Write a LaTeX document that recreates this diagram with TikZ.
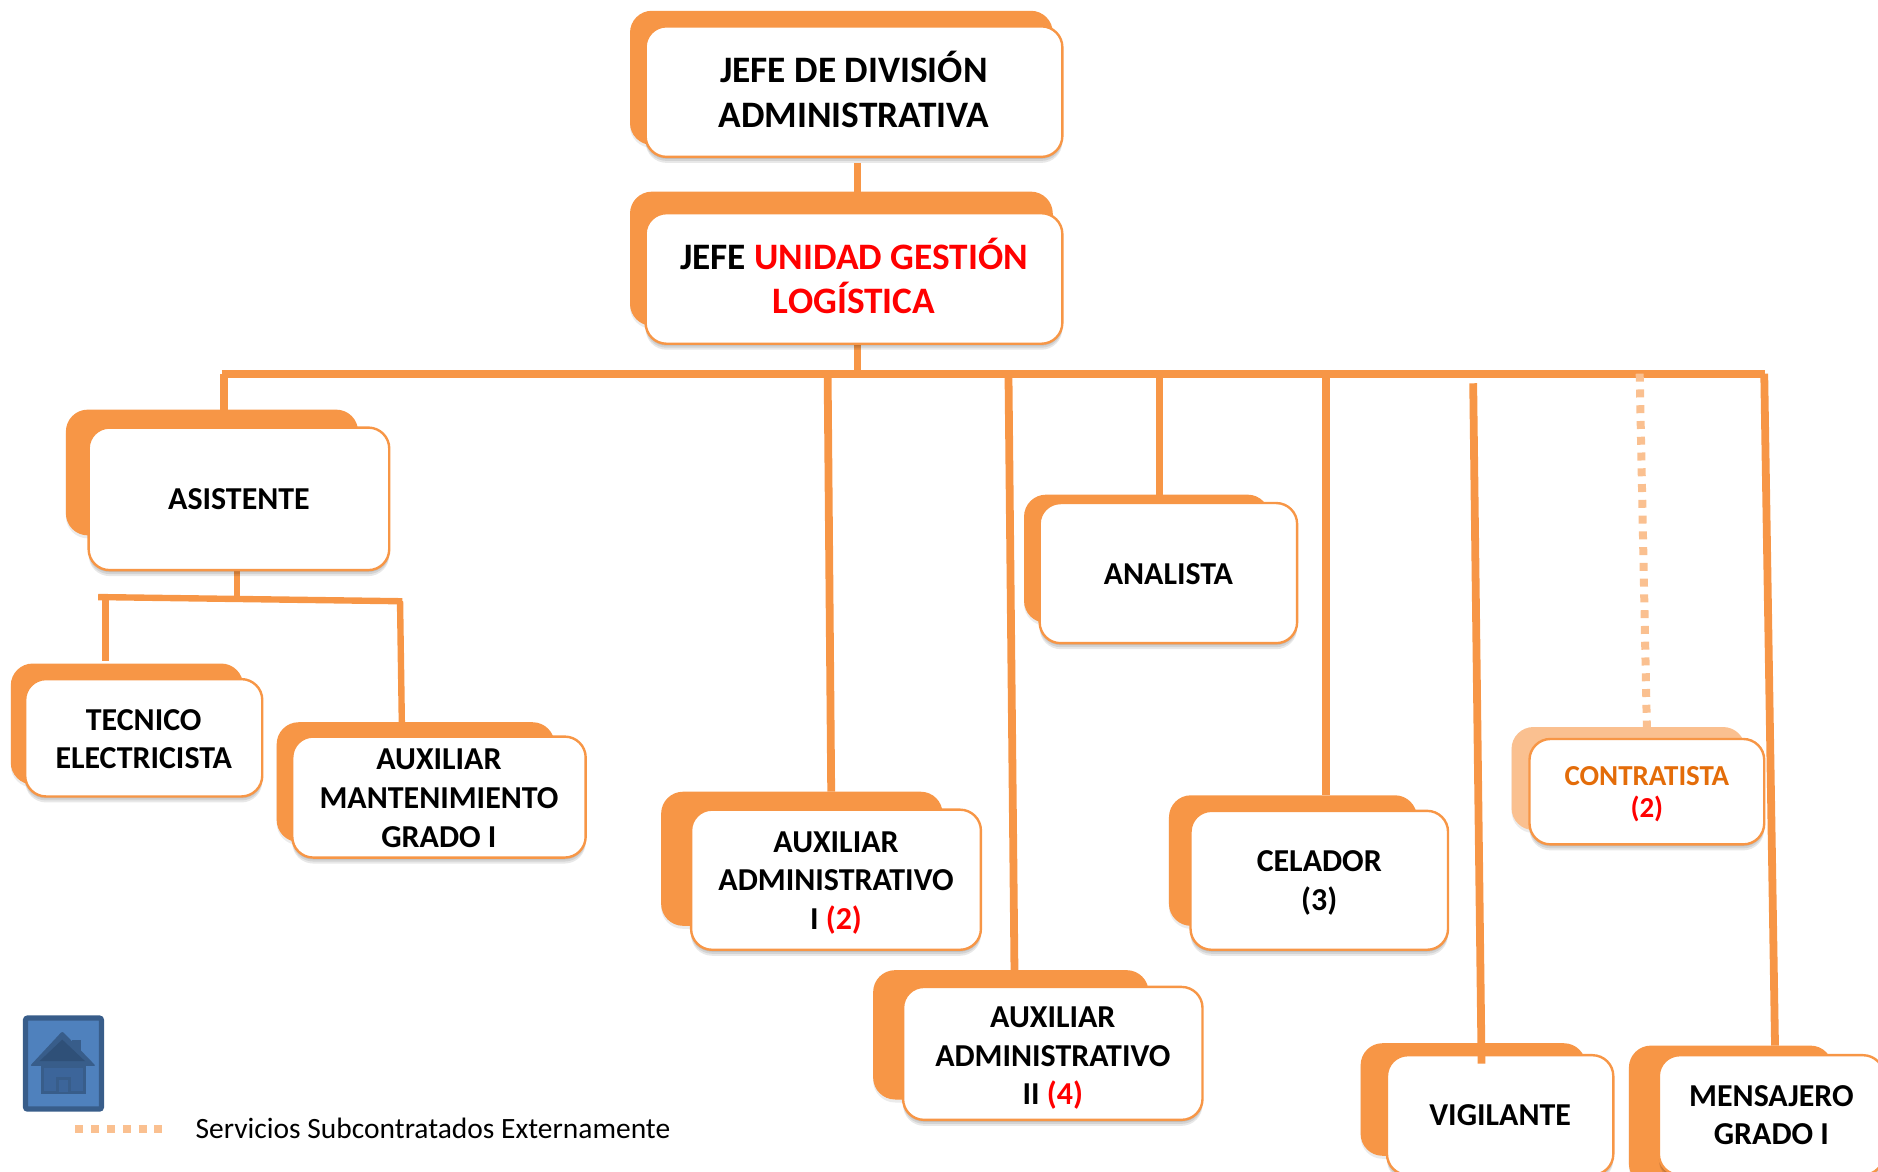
\documentclass[tikz,border=0pt]{standalone}
\usepackage{fontspec}
\setmainfont{Carlito}
\definecolor{org}{HTML}{F79646}
\definecolor{orglight}{HTML}{FAC090}
\definecolor{homefill}{HTML}{4F81BD}
\definecolor{homeline}{HTML}{385D8A}
\definecolor{homeroof}{HTML}{2F5078}
\definecolor{homebody}{HTML}{3C659A}
\definecolor{contr}{HTML}{E36C09}
\tikzset{
 frontbox/.style={draw=org,line width=1.2pt,fill=white,rounded corners=10.5pt,inner sep=0pt,outer sep=0pt,
   preaction={fill=black,opacity=.09,draw=none,transform canvas={yshift=-1pt}},
   preaction={fill=black,opacity=.09,draw=none,transform canvas={yshift=-2pt}},
   preaction={fill=black,opacity=.09,draw=none,transform canvas={yshift=-3pt}}},
 backbox/.style={fill=org,rounded corners=11pt,inner sep=0pt,outer sep=0pt,
   preaction={fill=black,opacity=.08,draw=none,transform canvas={yshift=-1.5pt}}},
 lightback/.style={backbox,fill=orglight},
 conn/.style={draw=org,line width=3.9pt},
 subconn/.style={draw=org,line width=3.2pt},
 dotconn/.style={draw=orglight,line width=4pt,dash pattern=on 4pt off 3.9pt},
 cardtext/.style={align=center,inner sep=0pt,outer sep=0pt},
 big/.style={cardtext,font=\bfseries\fontsize{18.7}{22.4}\selectfont},
 small/.style={cardtext,font=\bfseries\fontsize{16}{19.3}\selectfont},
 tiny/.style={cardtext,font=\bfseries\fontsize{14.5}{16.4}\selectfont},
}
% name, box style, x1, x2, y1, y2 (card outline)
\newcommand{\bx}[6]{\node[#2,minimum width={(#4-#3)*0.6pt},minimum height={(#6-#5)*0.6pt}] (#1) at ({(#3+#4)/2},{(#5+#6)/2}) {};}
% name, text style, text
\newcommand{\tx}[3]{\node[#2] (#1t) at (#1.center) {#3};}
\begin{document}
\begin{tikzpicture}[x=0.6pt,y=-0.6pt]
\useasboundingbox (0,0) rectangle (1568,978.5);
% back cards
\bx{j1b}{backbox}{526}{879}{9}{121}
\bx{j2b}{backbox}{526}{879}{160}{272}
\bx{asb}{backbox}{55}{299}{342}{447}
\bx{tecb}{backbox}{9}{203}{554}{655}
\bx{mantb}{backbox}{231}{463}{603}{703}
\bx{a1b}{backbox}{552}{787}{661}{773}
\bx{a2b}{backbox}{729}{959}{810}{918}
\bx{anb}{backbox}{855}{1060}{413}{520}
\bx{celb}{backbox}{976}{1183}{664}{773}
\bx{conb}{lightback}{1262}{1457}{607}{693}
\bx{vigb}{backbox}{1136}{1324}{871}{965}
\bx{menb}{backbox}{1360}{1530}{873}{990}
% named ends
\coordinate (j1s) at (716,136);
\coordinate (j2s) at (716,287);
\coordinate (barL) at (185,312);
\coordinate (barR) at (1474,312);
\coordinate (jb) at (716,312);
\coordinate (ba) at (187,312);
\coordinate (b1) at (691,312);
\coordinate (b2) at (842,312);
\coordinate (b3) at (968,312);
\coordinate (b4) at (1107,312);
\coordinate (b5) at (1230,320);
\coordinate (b6) at (1369,312);
\coordinate (b7) at (1473,312);
\coordinate (e1) at (694,661);
\coordinate (e2) at (847,810);
\coordinate (e3) at (968,413);
\coordinate (e4) at (1107,664);
\coordinate (e5) at (1237,888);
\coordinate (e6) at (1375,607);
\coordinate (e7) at (1482,873);
\coordinate (ea) at (187,342);
\coordinate (sL) at (82,498.5);
\coordinate (sR) at (336,502);
\coordinate (sm) at (198,500);
\coordinate (st) at (198,476);
\coordinate (tL) at (88,499);
\coordinate (tLe) at (88,552);
\coordinate (tR) at (334,502);
\coordinate (tRe) at (335.5,603);
\coordinate (lgA) at (63,943);
\coordinate (lgB) at (140,943);
% connectors
\draw[conn] (j1s) -- (j2b.north -| j1s);
\draw[conn] (j2s) -- (jb);
\draw[conn] (barL) -- (barR);
\draw[conn] (ba) -- (ea);
\draw[conn] (b1) -- (e1);
\draw[conn] (b2) -- (e2);
\draw[conn] (b3) -- (e3);
\draw[conn] (b4) -- (e4);
\draw[conn] (b7) -- (e7);
\draw[subconn] (st) -- (sm);
\draw[subconn] (sL) -- (sR);
\draw[subconn] (tL) -- (tLe);
\draw[subconn] (tR) -- (tRe);
\draw[dotconn] (b6) -- (e6);
% front cards
\bx{j1}{frontbox}{539}{887}{22}{131}
\tx{j1}{big,yshift=1.2pt}{JEFE DE DIVISIÓN\\ADMINISTRATIVA}
\bx{j2}{frontbox}{539}{887}{178}{287}
\tx{j2}{big,yshift=1.2pt}{JEFE \textcolor{red}{UNIDAD GESTIÓN}\\\textcolor{red}{LOGÍSTICA}}
\bx{as}{frontbox}{74}{325}{357}{476}
\tx{as}{small}{ASISTENTE}
\bx{tec}{frontbox}{21}{219}{567}{665}
\tx{tec}{small,yshift=-0.6pt}{TECNICO\\ELECTRICISTA}
\bx{mant}{frontbox}{244}{489}{615}{716}
\tx{mant}{small,yshift=-0.6pt}{AUXILIAR\\MANTENIMIENTO\\GRADO I}
\bx{a1}{frontbox}{577}{819}{676}{793}
\tx{a1}{small,yshift=-1.5pt}{AUXILIAR\\ADMINISTRATIVO\\I \textcolor{red}{(2)}}
\bx{a2}{frontbox}{754}{1004}{824}{935}
\tx{a2}{small,yshift=-2.4pt}{AUXILIAR\\ADMINISTRATIVO\\II \textcolor{red}{(4)}}
\bx{an}{frontbox}{868}{1083}{420}{537}
\tx{an}{small,yshift=-0.6pt}{ANALISTA}
\bx{cel}{frontbox}{994}{1209}{677}{793}
\tx{cel}{small,yshift=-1.2pt}{CELADOR\\(3)}
\bx{con}{frontbox}{1277}{1473}{617}{705}
\tx{con}{tiny,text=contr,yshift=-1.2pt}{CONTRATISTA\\\textcolor{red}{(2)}}
\bx{vig}{frontbox}{1158}{1347}{881}{981}
\tx{vig}{small}{VIGILANTE}
\bx{men}{frontbox}{1385}{1573}{881}{981}
\tx{men}{small}{MENSAJERO\\GRADO I}
\draw[conn] (b5) -- (e5);
% legend
\draw[dotconn] (lgA) -- (lgB);
\node[anchor=west,inner sep=0pt,font=\fontsize{14.77}{17}\selectfont] (lgt) at (163,942) {Servicios Subcontratados Externamente};
% home button
\node[draw=homeline,fill=homefill,line width=2.6pt,rounded corners=1pt,minimum width=38pt,minimum height=45.6pt,inner sep=0pt] (home) at (53,888) {};
\fill[homeline] (60,868) rectangle (68,885);
\fill[homeline,rounded corners=1pt] (52,861) -- (80,890) -- (25,890) -- cycle;
\fill[homeroof] (52,868) -- (71,886) -- (33,886) -- cycle;
\filldraw[draw=homeline,fill=homebody,line width=1.6pt] (35.5,890) rectangle (70.5,912);
\fill[homeline] (47,899) rectangle (59,912);
\fill[homebody] (49.5,902) rectangle (56.5,912);
\end{tikzpicture}
\end{document}
